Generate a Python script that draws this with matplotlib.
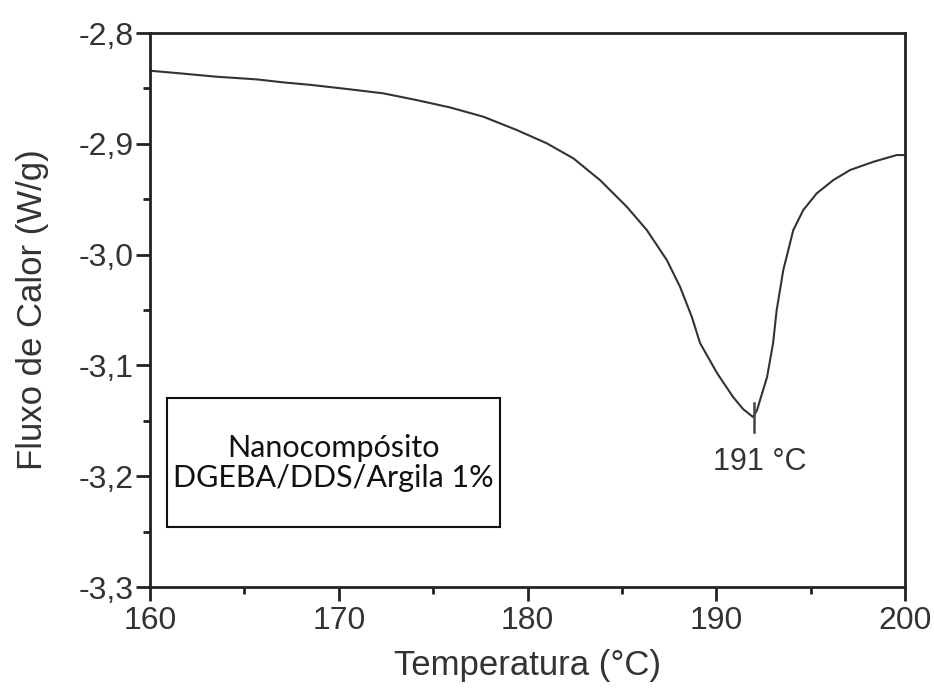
import numpy as np
import matplotlib
matplotlib.use("Agg")
import matplotlib.pyplot as plt
from matplotlib.ticker import MultipleLocator

# DSC curve (temperature in C, heat flow in W/g)
temps = [160.00, 161.23, 163.53, 165.65, 167.06, 168.48, 170.60, 172.36, 174.13,
         175.89, 177.66, 179.43, 181.02, 182.43, 183.84, 185.26, 186.32, 187.38,
         188.08, 188.70, 189.14, 190.04, 190.89, 191.42, 191.95, 192.16, 192.69,
         193.01, 193.20, 193.55, 194.08, 194.61, 195.32, 196.20, 197.09, 198.32,
         199.56, 200.00]
flux = [-2.8340, -2.8358, -2.8394, -2.8418, -2.8445, -2.8467, -2.8508, -2.8544,
        -2.8605, -2.8671, -2.8755, -2.8875, -2.8995, -2.9131, -2.9327, -2.9568,
        -2.9778, -3.0049, -3.0290, -3.0560, -3.0798, -3.1069, -3.1285, -3.1394,
        -3.1466, -3.1402, -3.1105, -3.0798, -3.0500, -3.0139, -2.9778, -2.9597,
        -2.9447, -2.9327, -2.9236, -2.9162, -2.9101, -2.9101]

peak_T = 192.0
peak_mark = [-3.134, -3.160]
peak_label = "191 °C"

xticks = [160, 170, 180, 190, 200]
yticks = [-2.8, -2.9, -3.0, -3.1, -3.2, -3.3]
ytick_labels = ["-2,8", "-2,9", "-3,0", "-3,1", "-3,2", "-3,3"]

box_text = "Nanocompósito\nDGEBA/DDS/Argila 1%"

txt_color = "#333333"
plt.rcParams["font.family"] = ["Liberation Sans", "DejaVu Sans"]

fig = plt.figure(figsize=(9.34, 6.89), dpi=100)
ax = fig.add_axes([0.1606, 0.148, 0.8084, 0.804])

ax.plot(temps, flux, color="#333333", lw=1.5)
ax.plot([peak_T, peak_T], peak_mark, color="#444444", lw=1.8)
ax.text(192.3, -3.187, peak_label, fontsize=22, color=txt_color,
        ha="center", va="center")

ax.set_xlim(160, 200)
ax.set_ylim(-3.3, -2.8)
ax.set_xticks(xticks)
ax.set_yticks(yticks)
ax.set_yticklabels(ytick_labels)
ax.xaxis.set_minor_locator(MultipleLocator(5))
ax.yaxis.set_minor_locator(MultipleLocator(0.05))

ax.tick_params(which="major", direction="out", length=10, width=2,
               labelsize=23, labelcolor=txt_color, color="#222222")
ax.tick_params(axis="y", which="major", pad=2)
ax.tick_params(axis="x", which="major", pad=4)
ax.tick_params(which="minor", direction="out", length=5, width=2, color="#222222")
ax.tick_params(top=False, right=False)
for sp in ax.spines.values():
    sp.set_linewidth(2)
    sp.set_color("#222222")

ax.set_xlabel("Temperatura (°C)", fontsize=25, color=txt_color, labelpad=9)
ax.set_ylabel("Fluxo de Calor (W/g)", fontsize=25, color=txt_color, labelpad=21)

# text box with sample name
ax.text(169.7, -3.188, box_text, fontsize=22, family=["Lato", "DejaVu Sans"],
        color="#111111", ha="center", va="center", linespacing=1.05)
ax.add_patch(plt.Rectangle((160.9, -3.246), 17.65, 0.1164, fill=False,
                           ec="#111111", lw=1.5))

fig.savefig("out.png", dpi=100)
